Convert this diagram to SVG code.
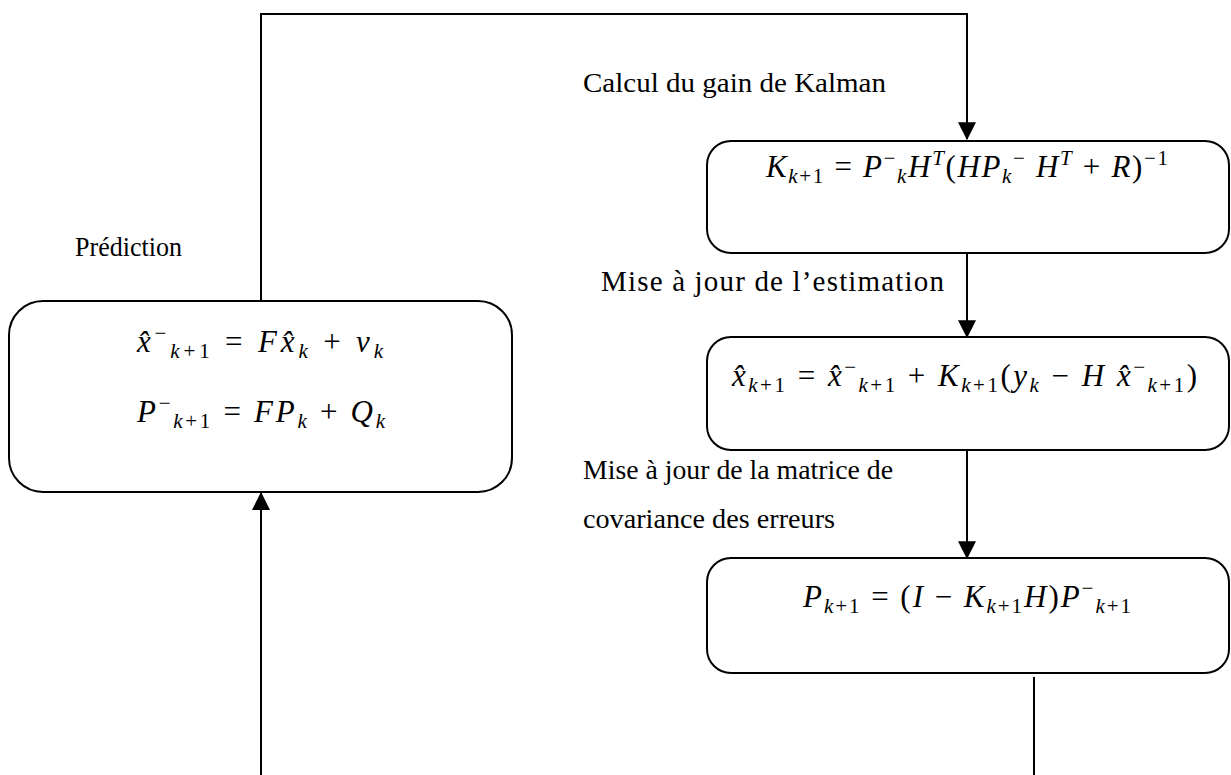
<svg xmlns="http://www.w3.org/2000/svg" width="1231" height="775" viewBox="0 0 1231 775">
<defs>
<marker id="ah" markerUnits="userSpaceOnUse" markerWidth="18" markerHeight="18" viewBox="0 0 16 16" refX="15" refY="8" orient="auto">
<path d="M0,0 L16,8 L0,16 Z" fill="#000"/>
</marker>
<style>
.box{fill:#fff;stroke:#000;stroke-width:2}
.con{fill:none;stroke:#000;stroke-width:2}
.lbl{font-family:"Liberation Serif","Times New Roman",serif;font-size:28px;fill:#000}
.m{font-family:"Liberation Serif","Times New Roman",serif;font-size:31px;font-style:italic;fill:#000}
.n{font-style:normal}
.s{font-size:21px}
</style>
</defs>
<rect width="1231" height="775" fill="#fff"/>
<g id="connectors">
<polyline class="con" points="261,301 261,14 967,14 967,139" marker-end="url(#ah)"/>
<line class="con" x1="967" y1="253" x2="967" y2="337" marker-end="url(#ah)"/>
<line class="con" x1="967" y1="450" x2="967" y2="558" marker-end="url(#ah)"/>
<line class="con" x1="1034" y1="677" x2="1034" y2="775"/>
<line class="con" x1="261" y1="775" x2="261" y2="493" marker-end="url(#ah)"/>
</g>
<g id="prediction">
<text class="lbl" x="75" y="256" textLength="107" lengthAdjust="spacingAndGlyphs">Prédiction</text>
<rect class="box" x="9" y="301" width="503" height="191" rx="34"/>
<text class="m" x="137" y="352" textLength="246" lengthAdjust="spacing">x̂<tspan class="s n" dy="-12">−</tspan><tspan class="s" dy="18">k</tspan><tspan class="s n">+1</tspan><tspan class="n" dy="-6"> = </tspan>Fx̂<tspan class="s" dy="6">k</tspan><tspan class="n" dy="-6"> + </tspan>v<tspan class="s" dy="6">k</tspan></text>
<text class="m" x="137" y="422" textLength="248" lengthAdjust="spacing">P<tspan class="s n" dy="-12">−</tspan><tspan class="s" dy="18">k</tspan><tspan class="s n">+1</tspan><tspan class="n" dy="-6"> = </tspan>FP<tspan class="s" dy="6">k</tspan><tspan class="n" dy="-6"> + </tspan>Q<tspan class="s" dy="6">k</tspan></text>
</g>
<g id="gain">
<text class="lbl" x="583" y="92" textLength="303" lengthAdjust="spacingAndGlyphs">Calcul du gain de Kalman</text>
<rect class="box" x="707" y="141" width="522" height="112" rx="24"/>
<text class="m" x="766" y="177" textLength="402" lengthAdjust="spacing">K<tspan class="s" dy="6">k</tspan><tspan class="s n">+1</tspan><tspan class="n" dy="-6"> = </tspan>P<tspan class="s n" dy="-12">−</tspan><tspan class="s" dy="18">k</tspan><tspan dy="-6">H</tspan><tspan class="s" dy="-12">T</tspan><tspan class="n" dy="12">(</tspan>HP<tspan class="s" dy="6">k</tspan><tspan class="s n" dy="-18">−</tspan><tspan dy="12"> H</tspan><tspan class="s" dy="-12">T</tspan><tspan class="n" dy="12"> + </tspan>R<tspan class="n">)</tspan><tspan class="s n" dy="-12">−1</tspan></text>
</g>
<g id="estimation">
<text class="lbl" x="601" y="291" style="font-size:29px" textLength="343" lengthAdjust="spacing">Mise à jour de l’estimation</text>
<rect class="box" x="707" y="337" width="522" height="113" rx="24"/>
<text class="m" x="732" y="386" textLength="465" lengthAdjust="spacing">x̂<tspan class="s" dy="6">k</tspan><tspan class="s n">+1</tspan><tspan class="n" dy="-6"> = </tspan>x̂<tspan class="s n" dy="-12">−</tspan><tspan class="s" dy="18">k</tspan><tspan class="s n">+1</tspan><tspan class="n" dy="-6"> + </tspan>K<tspan class="s" dy="6">k</tspan><tspan class="s n">+1</tspan><tspan class="n" dy="-6">(</tspan>y<tspan class="s" dy="6">k</tspan><tspan class="n" dy="-6"> − </tspan>H x̂<tspan class="s n" dy="-12">−</tspan><tspan class="s" dy="18">k</tspan><tspan class="s n">+1</tspan><tspan class="n" dy="-6">)</tspan></text>
</g>
<g id="covariance">
<text class="lbl" x="583" y="479" textLength="310" lengthAdjust="spacingAndGlyphs">Mise à jour de la matrice de</text>
<text class="lbl" x="583" y="528" textLength="252" lengthAdjust="spacingAndGlyphs">covariance des erreurs</text>
<rect class="box" x="707" y="558" width="522" height="115" rx="24"/>
<text class="m" x="803" y="607" textLength="328" lengthAdjust="spacing">P<tspan class="s" dy="6">k</tspan><tspan class="s n">+1</tspan><tspan class="n" dy="-6"> = (</tspan>I<tspan class="n"> − </tspan>K<tspan class="s" dy="6">k</tspan><tspan class="s n">+1</tspan><tspan dy="-6">H</tspan><tspan class="n">)</tspan>P<tspan class="s n" dy="-12">−</tspan><tspan class="s" dy="18">k</tspan><tspan class="s n">+1</tspan></text>
</g>
</svg>
